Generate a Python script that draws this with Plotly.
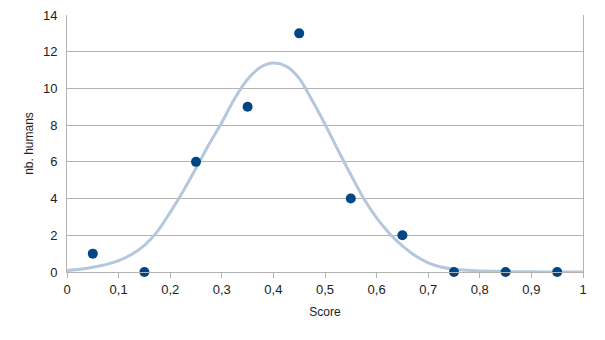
import plotly.graph_objects as go

# Observed data points
score = [0.05, 0.15, 0.25, 0.35, 0.45, 0.55, 0.65, 0.75, 0.85, 0.95]
humans = [1, 0, 6, 9, 13, 4, 2, 0, 0, 0]

# Fitted curve, values
curve_x = [0, 0.025, 0.05, 0.075, 0.1, 0.125, 0.15, 0.175, 0.2, 0.225,
           0.25, 0.275, 0.3, 0.325, 0.35, 0.375, 0.4, 0.425, 0.45, 0.475,
           0.5, 0.525, 0.55, 0.575, 0.6, 0.625, 0.65, 0.675, 0.7, 0.725,
           0.75, 0.775, 0.8, 0.85, 0.9, 0.95, 1.0]
curve_y = [0.08, 0.15, 0.26, 0.4, 0.62, 0.95, 1.45, 2.2, 3.25, 4.4,
           5.65, 6.95, 8.15, 9.45, 10.5, 11.15, 11.38, 11.2, 10.55, 9.35,
           8.05, 6.65, 5.3, 4.0, 2.95, 2.1, 1.42, 0.88, 0.5, 0.27,
           0.15, 0.09, 0.06, 0.03, 0.01, 0.0, 0.0]

x_ticks = [0, 0.1, 0.2, 0.3, 0.4, 0.5, 0.6, 0.7, 0.8, 0.9, 1]
y_ticks = [0, 2, 4, 6, 8, 10, 12, 14]

fig = go.Figure()
fig.add_trace(go.Scatter(
    x=curve_x, y=curve_y, mode="lines",
    line=dict(color="#b4c7dc", width=3, shape="spline", smoothing=0.8),
    showlegend=False, hoverinfo="skip"))
fig.add_trace(go.Scatter(
    x=score, y=humans, mode="markers",
    marker=dict(color="#004586", size=10),
    cliponaxis=False, showlegend=False))

fig.update_layout(
    width=605, height=340,
    margin=dict(l=67, r=22, t=15, b=68, autoexpand=False),
    paper_bgcolor="white", plot_bgcolor="white",
    separators=", ",
    font=dict(family="Liberation Sans, Arial, sans-serif", size=13, color="#222"),
    xaxis=dict(
        range=[0, 1], tickvals=x_ticks, tickformat=".1~f",
        showgrid=False, zeroline=False,
        showline=True, linecolor="#b3b3b3", linewidth=1,
        ticks="outside", ticklen=5, tickcolor="#b3b3b3",
        automargin=False,
        title=dict(text="Score", font=dict(size=12), standoff=12),
    ),
    yaxis=dict(
        range=[0, 14], tickvals=y_ticks,
        showgrid=True, gridcolor="#b3b3b3", gridwidth=1, zeroline=False,
        showline=True, linecolor="#b3b3b3", linewidth=1, mirror=True,
        ticks="", ticklabelstandoff=6, automargin=False,
        title=dict(text="nb. humans", font=dict(size=12), standoff=6),
    ),
)

fig.write_html("out.html")
